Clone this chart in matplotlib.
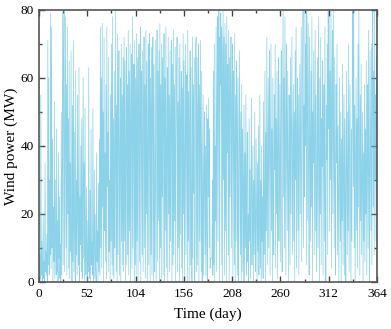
import matplotlib.pyplot as plt
from matplotlib.ticker import MultipleLocator
import numpy as np

# Wind power, two samples per day
power = [
    0, 3, 8, 1, 55, 2, 12, 0, 4, 20, 1, 6, 0, 35, 3, 9, 2, 14, 0, 71, 5, 60, 2, 30, 8, 79,
    4, 75, 10, 42, 0, 22, 6, 53, 1, 30, 12, 2, 45, 3, 18, 0, 38, 7, 25, 1, 11, 0, 50, 2, 28, 79,
    5, 66, 80, 3, 40, 78, 10, 58, 2, 75, 20, 48, 4, 65, 1, 35, 9, 68, 14, 0, 52, 6, 71, 3, 44, 12,
    0, 62, 8, 30, 2, 55, 18, 5, 63, 0, 25, 11, 40, 3, 48, 1, 22, 60, 7, 35, 0, 51, 12, 2, 28, 6,
    0, 18, 3, 63, 9, 1, 27, 0, 45, 5, 12, 2, 51, 0, 8, 33, 1, 20, 4, 0, 38, 6, 15, 0, 29, 3,
    42, 2, 75, 10, 60, 4, 76, 22, 50, 0, 72, 15, 38, 6, 58, 1, 75, 28, 44, 3, 66, 9, 30, 0, 55, 12,
    70, 5, 78, 2, 48, 1, 62, 10, 33, 80, 3, 52, 0, 73, 8, 44, 68, 2, 36, 60, 0, 70, 12, 55, 5, 66,
    3, 72, 12, 65, 0, 40, 69, 5, 58, 8, 74, 2, 62, 15, 70, 0, 50, 67, 4, 78, 10, 45, 64, 0, 71, 5,
    60, 2, 73, 12, 66, 0, 45, 70, 6, 55, 75, 0, 62, 40, 8, 68, 3, 50, 72, 10, 58, 1, 74, 20, 65, 0,
    42, 70, 5, 48, 73, 0, 60, 8, 69, 2, 55, 72, 0, 64, 14, 3, 71, 30, 0, 57, 74, 6, 62, 18, 68, 0,
    76, 10, 58, 0, 70, 25, 66, 2, 52, 73, 0, 60, 15, 75, 4, 40, 63, 0, 72, 20, 55, 3, 68, 12, 47, 71,
    0, 64, 5, 74, 8, 58, 18, 69, 0, 42, 60, 72, 3, 53, 10, 66, 0, 70, 14, 48, 62, 4, 57, 0, 73, 20,
    65, 2, 40, 70, 8, 52, 61, 0, 74, 12, 56, 0, 44, 68, 5, 63, 18, 0, 72, 7, 58, 26, 66, 0, 15, 69,
    72, 3, 66, 5, 48, 70, 0, 58, 12, 71, 35, 3, 62, 0, 18, 55, 2, 30, 50, 8, 40, 2, 52, 15, 0, 48,
    25, 54, 10, 45, 4, 7, 7, 7, 7, 30, 2, 62, 5, 70, 0, 40, 18, 75, 3, 50, 78, 12, 66, 80, 0, 72,
    58, 79, 5, 75, 68, 0, 80, 30, 72, 2, 76, 15, 70, 0, 78, 38, 64, 8, 74, 0, 66, 25, 58, 72, 10, 55,
    70, 2, 62, 40, 5, 73, 0, 55, 12, 65, 48, 2, 60, 0, 18, 68, 42, 8, 50, 0, 58, 3, 45, 30, 0, 52,
    0, 38, 10, 55, 2, 28, 44, 6, 20, 0, 48, 12, 33, 1, 25, 54, 5, 18, 40, 0, 30, 8, 50, 15, 3, 42,
    22, 0, 35, 9, 46, 2, 18, 55, 4, 30, 0, 40, 12, 25, 1, 53, 8, 20, 62, 0, 44, 15, 72, 5, 32, 60,
    10, 50, 68, 2, 38, 70, 15, 45, 0, 60, 25, 8, 55, 33, 70, 4, 48, 20, 62, 1, 40, 66, 12, 30, 58, 6,
    44, 68, 18, 3, 52, 80, 25, 60, 10, 78, 36, 2, 70, 48, 15, 62, 28, 0, 55, 40, 5, 66, 20, 45, 72, 8,
    35, 58, 12, 50, 0, 68, 30, 75, 4, 42, 60, 15, 55, 2, 38, 64, 20, 48, 75, 6, 33, 60, 80, 10, 52, 25,
    80, 40, 70, 5, 80, 58, 18, 76, 30, 2, 72, 45, 12, 62, 22, 78, 0, 50, 35, 68, 8, 44, 74, 15, 55, 3,
    30, 66, 10, 78, 42, 0, 60, 20, 72, 5, 48, 34, 65, 2, 40, 58, 12, 75, 25, 0, 52, 36, 70, 8, 80, 45,
    78, 15, 62, 30, 80, 4, 55, 74, 20, 80, 40, 10, 66, 28, 2, 58, 35, 70, 8, 46, 22, 0, 60, 38, 12, 50,
    0, 42, 18, 64, 5, 30, 55, 2, 48, 20, 0, 62, 36, 8, 50, 15, 70, 3, 40, 58, 25, 0, 45, 12, 66, 80,
    28, 80, 10, 52, 0, 35, 60, 15, 48, 4, 70, 22, 80, 40, 2, 55, 18, 64, 8, 30, 50, 0, 38, 12, 58, 6,
    45, 20, 65, 2, 35, 58, 10, 74, 28, 0, 68, 40, 15, 70, 5, 52, 80, 22, 62, 8, 80, 30, 55, 12, 66, 20,
]
days = np.linspace(0, 364, len(power))
xticks = [0, 52, 104, 156, 208, 260, 312, 364]
yticks = [0, 20, 40, 60, 80]

plt.rcParams['font.family'] = ['Liberation Serif', 'DejaVu Serif']

fig = plt.figure(figsize=(3.91, 3.29), dpi=100)
ax = fig.add_axes([0.0997, 0.143, 0.8645, 0.827])

ax.plot(days, power, color='#4fbadc', linewidth=0.5, alpha=0.65)

ax.set_xlim(0, 364)
ax.set_ylim(0, 80)
ax.set_xticks(xticks)
ax.set_yticks(yticks)
ax.xaxis.set_minor_locator(MultipleLocator(26))
ax.yaxis.set_minor_locator(MultipleLocator(10))
ax.tick_params(which='both', direction='in', top=True, right=True,
               labelsize=9.5, color='#444444', width=1)
ax.tick_params(which='major', length=4)
ax.tick_params(which='minor', length=2)
ax.tick_params(axis='x', pad=4)
for s in ax.spines.values():
    s.set_color('#555555')
    s.set_linewidth(1.2)

ax.set_xlabel('Time (day)', fontsize=11, labelpad=6)
ax.set_ylabel('Wind power (MW)', fontsize=11, labelpad=2)

fig.savefig('out.png', dpi=100)
